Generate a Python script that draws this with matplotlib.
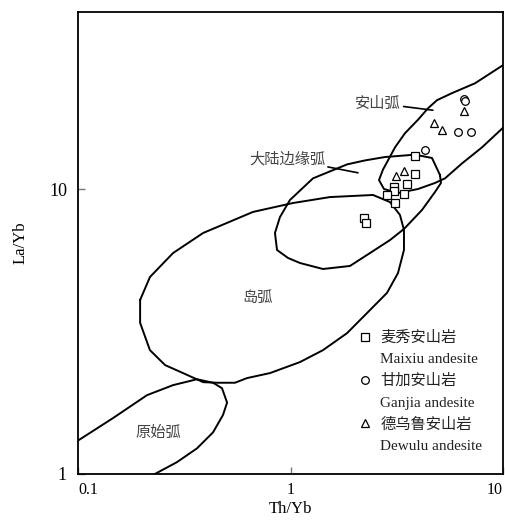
import matplotlib
matplotlib.use("Agg")
import matplotlib.pyplot as plt
from matplotlib.lines import Line2D
from matplotlib.ticker import NullLocator

plt.rcParams['font.family'] = ['Liberation Serif', 'Noto Sans CJK SC']

# samples (Th/Yb, La/Yb)
maixiu_th = [3.85, 3.85, 3.53, 3.07, 3.07, 2.85, 3.42, 3.10, 2.22, 2.27]
maixiu_la = [13.05, 11.3, 10.4, 10.2, 9.84, 9.53, 9.6, 8.93, 7.91, 7.6]
ganjia_th = [6.55, 6.62, 6.14, 7.07, 4.29]
ganjia_la = [20.7, 20.3, 15.85, 15.85, 13.7]
dewulu_th = [6.55, 4.73, 5.16, 3.14, 3.42]
dewulu_la = [18.8, 17.0, 16.1, 11.1, 11.6]

legend_cn = ['麦秀安山岩', '甘加安山岩', '德乌鲁安山岩']
legend_en = ['Maixiu andesite', 'Ganjia andesite', 'Dewulu andesite']

# field boundaries
primitive_x = [0.100, 0.146, 0.211, 0.280, 0.363, 0.432, 0.476, 0.503, 0.481, 0.432, 0.363, 0.292, 0.230]
primitive_y = [1.31, 1.57, 1.89, 2.05, 2.15, 2.09, 2.00, 1.78, 1.61, 1.40, 1.23, 1.10, 1.00]

island_x = [0.196, 0.218, 0.280, 0.388, 0.666, 1.027, 1.534, 2.445, 2.939, 3.275, 3.42, 3.42, 3.205, 2.845,
            2.366, 1.845, 1.422, 1.108, 0.801, 0.624, 0.548, 0.451, 0.388, 0.312, 0.257, 0.218, 0.196, 0.196]
island_y = [4.08, 4.91, 5.96, 7.01, 8.31, 8.93, 9.37, 9.53, 9.0, 8.11, 7.18, 6.11, 5.07, 4.32,
            3.76, 3.12, 2.72, 2.47, 2.26, 2.17, 2.09, 2.09, 2.10, 2.26, 2.41, 2.72, 3.39, 4.08]

margin_x = [5.052, 4.633, 3.853, 2.784, 2.242, 1.845, 1.276, 0.994, 0.892, 0.845, 0.864,
            0.973, 1.108, 1.422, 1.905, 2.366, 2.939, 3.42, 4.157, 4.786, 5.107, 5.052]
margin_y = [11.2, 12.85, 13.2, 12.95, 12.6, 12.2, 10.9, 9.15, 7.97, 7.01, 6.11,
            5.73, 5.50, 5.24, 5.37, 5.96, 6.62, 7.24, 8.44, 9.76, 10.5, 11.2]

andean_x = [10, 7.385, 5.754, 4.891, 4.437, 3.981, 3.458, 3.103, 2.876, 2.724, 2.609, 2.754,
            3.205, 3.981, 4.786, 5.336, 6.414, 7.965, 10]
andean_y = [27.2, 23.5, 21.7, 20.5, 19.2, 17.5, 15.7, 14.0, 12.6, 11.7, 10.75, 10.0,
            9.68, 10.0, 10.5, 10.9, 12.3, 14.0, 16.4]

fig = plt.figure(figsize=(5.05, 5.22), dpi=100)
ax = fig.add_axes([0.1545, 0.092, 0.8415, 0.885])
ax.set_xscale('log')
ax.set_yscale('log')
ax.set_xlim(0.1, 10)
ax.set_ylim(1, 41.8)

for fx, fy in [(primitive_x, primitive_y), (island_x, island_y), (margin_x, margin_y), (andean_x, andean_y)]:
    ax.plot(fx, fy, color='black', lw=1.4, solid_joinstyle='round')

mk = dict(linestyle='none', mfc='white', mec='black', mew=0.9, ms=5.5)
sq, = ax.plot(maixiu_th, maixiu_la, marker='s', **mk)
ci, = ax.plot(ganjia_th, ganjia_la, marker='o', **mk)
tr, = ax.plot(dewulu_th, dewulu_la, marker='^', **mk)

cjk = dict(family=['Noto Sans CJK SC'], fontsize=11, color='#444444')
ax.annotate('安山弧', xy=(4.68, 18.9), xytext=(2.58, 20.0), ha='center', va='center',
            arrowprops=dict(arrowstyle='-', lw=1.2, shrinkA=0, shrinkB=0), **cjk)
ax.annotate('大陆边缘弧', xy=(2.078, 11.4), xytext=(0.963, 12.75), ha='center', va='center',
            arrowprops=dict(arrowstyle='-', lw=1.2, shrinkA=0, shrinkB=0), **cjk)
ax.text(0.696, 4.15, '岛弧', ha='center', va='center', **cjk)
ax.text(0.238, 1.40, '原始弧', ha='center', va='center', **cjk)

blank = Line2D([], [], linestyle='none')
handles = [sq, blank, ci, blank, tr, blank]
labels = [legend_cn[0], legend_en[0], legend_cn[1], legend_en[1], legend_cn[2], legend_en[2]]
leg = ax.legend(handles, labels, loc='upper left', bbox_to_anchor=(0.661, 0.31), frameon=False,
                handlelength=0.8, handletextpad=0.6, labelspacing=0.5, borderpad=0, borderaxespad=0,
                prop={'size': 11})
for t in leg.get_texts():
    t.set_color('#222222')

ax.set_xticks([0.1, 1, 10])
ax.set_xticklabels(['0.1', '1', '10'])
ax.set_yticks([1, 10])
ax.set_yticklabels(['1', '10'])
ax.xaxis.set_minor_locator(NullLocator())
ax.yaxis.set_minor_locator(NullLocator())
ax.tick_params(axis='both', direction='in', length=5, width=1, color='#777777', pad=6)
ax.tick_params(axis='x', labelsize=11.5)
ax.tick_params(axis='y', labelsize=13, pad=8)
xt = ax.get_xticklabels()
xt[0].set_horizontalalignment('left')
xt[-1].set_horizontalalignment('right')
for s in ax.spines.values():
    s.set_linewidth(1.3)

ax.set_xlabel('Th/Yb', fontsize=12, labelpad=2)
ax.set_ylabel('La/Yb', fontsize=12, labelpad=15)

fig.savefig('out.png', dpi=100)
